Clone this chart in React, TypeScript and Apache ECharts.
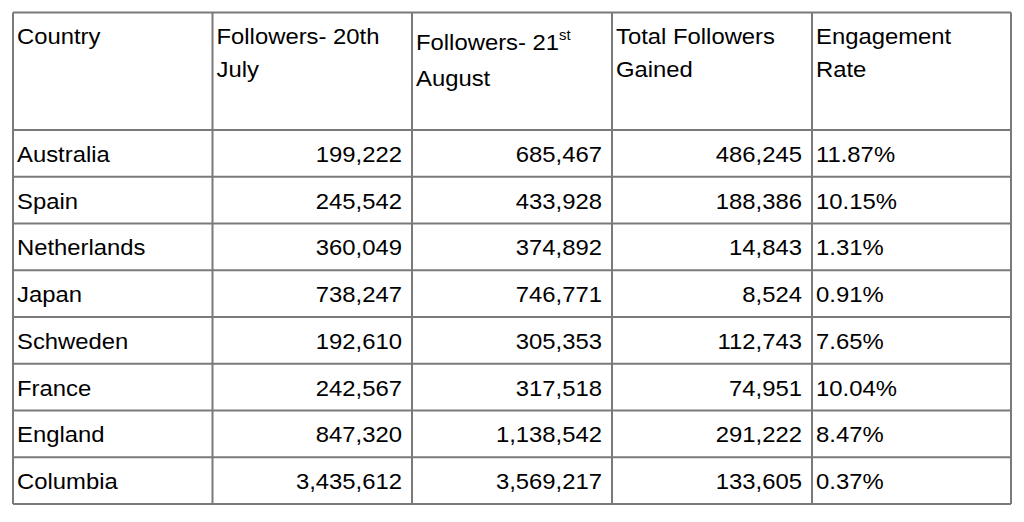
import React, { useEffect, useRef } from "react";
import * as echarts from "echarts";

const countries = ["Australia", "Spain", "Netherlands", "Japan", "Schweden", "France", "England", "Columbia"];
const followersJuly = [199222, 245542, 360049, 738247, 192610, 242567, 847320, 3435612];
const followersAugust = [685467, 433928, 374892, 746771, 305353, 317518, 1138542, 3569217];
const followersGained = [486245, 188386, 14843, 8524, 112743, 74951, 291222, 133605];
const engagementRate = ["11.87%", "10.15%", "1.31%", "0.91%", "7.65%", "10.04%", "8.47%", "0.37%"];

const headerLines = [
  ["Country"],
  ["Followers- 20th", "July"],
  ["Followers- 21", "August"],
  ["Total Followers", "Gained"],
  ["Engagement", "Rate"],
];
const headerSup = "st";

const colEdges = [13, 212.5, 412, 612, 812, 1011];
const tableTop = 12.5;
const headerBottom = 130;
const rowH = 46.75;

const FONT = "'Liberation Sans', Arial, Helvetica, sans-serif";
const FS = 22.5;
const SX = 1.06;
const INK = "#000000";
const LINE = "#7a7a7a";

const fmt = (v: number) => v.toLocaleString("en-US");

function txt(x: number, y: number, text: string, align: string, size = FS) {
  return {
    type: "text",
    x,
    y,
    scaleX: SX,
    silent: true,
    style: {
      x: 0,
      y: 0,
      text,
      fill: INK,
      fontFamily: FONT,
      fontSize: size,
      align,
      verticalAlign: "middle",
    },
  };
}

export default function App() {
  const ref = useRef<HTMLDivElement>(null);
  useEffect(() => {
    if (!ref.current) return;
    const chart = echarts.init(ref.current, undefined, { renderer: "svg" });
    const els: any[] = [];
    const nRows = countries.length;
    const bottom = headerBottom + rowH * nRows;

    const hs = [tableTop, headerBottom];
    for (let i = 1; i <= nRows; i++) hs.push(headerBottom + rowH * i);
    hs.forEach((y) =>
      els.push({
        type: "line",
        silent: true,
        shape: { x1: colEdges[0], y1: y, x2: colEdges[colEdges.length - 1], y2: y },
        style: { stroke: LINE, lineWidth: 2 },
      })
    );
    colEdges.forEach((x) =>
      els.push({
        type: "line",
        silent: true,
        shape: { x1: x, y1: tableTop, x2: x, y2: bottom },
        style: { stroke: LINE, lineWidth: 2 },
      })
    );

    const l1 = 36;
    const l2 = 69.5;
    headerLines.forEach((lines, c) => {
      const x = colEdges[c] + 4;
      const off = c === 2 ? 6 : 0;
      lines.forEach((t, k) => {
        els.push(txt(x, (k === 0 ? l1 : l2) + off + (c === 2 && k === 1 ? 2.5 : 0), t, "left"));
      });
    });
    els.push(txt(colEdges[2] + 4 + 143, 35, headerSup, "left", 14));

    for (let r = 0; r < nRows; r++) {
      const yc = headerBottom + rowH * r + rowH / 2 + 0.8;
      els.push(txt(colEdges[0] + 4, yc, countries[r], "left"));
      els.push(txt(colEdges[2] - 10, yc, fmt(followersJuly[r]), "right"));
      els.push(txt(colEdges[3] - 10, yc, fmt(followersAugust[r]), "right"));
      els.push(txt(colEdges[4] - 10, yc, fmt(followersGained[r]), "right"));
      els.push(txt(colEdges[4] + 4, yc, engagementRate[r], "left"));
    }

    chart.setOption({
      animation: false,
      backgroundColor: "#ffffff",
      graphic: { elements: els },
    });
    return () => chart.dispose();
  }, []);
  return (
    <div
      ref={ref}
      style={{ position: "fixed", left: 0, top: 0, width: 1024, height: 522, background: "#fff" }}
    />
  );
}
